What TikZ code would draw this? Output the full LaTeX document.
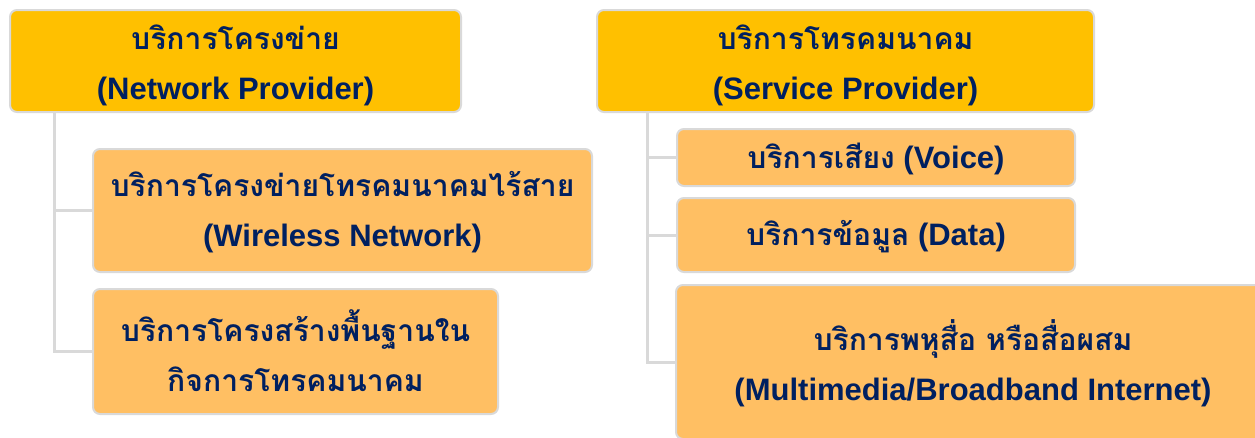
\documentclass[tikz,border=0pt]{standalone}
\usepackage{fontspec}
\setmainfont{Liberation Sans}
\newfontfamily\thaifont[Script=Thai, Scale=0.97]{Loma}
\usetikzlibrary{positioning}
\definecolor{topfill}{HTML}{FFC000}
\definecolor{subfill}{HTML}{FFBF63}
\definecolor{edgegray}{HTML}{D9D9D9}
\definecolor{textnavy}{HTML}{002060}

\begin{document}
\begin{tikzpicture}[x=1pt, y=-1pt,
    box/.style={rectangle, rounded corners=7pt, draw=edgegray, line width=2pt,
      inner sep=0pt},
    topbox/.style={box, fill=topfill},
    subbox/.style={box, fill=subfill},
    boxtext/.style={inner sep=0pt, align=center, text=textnavy,
      font=\fontsize{31}{50}\selectfont\bfseries},
    conn/.style={draw=edgegray, line width=3pt}]
    \clip (0,0) rectangle (1255,437);

    % Network provider
    \node[topbox, minimum width=451pt, minimum height=102pt] (net) at (235.5,61) {};
    \node[boxtext] (nettext) at ([yshift=-4pt]net.center)
      {{\thaifont บริการโครงข่าย}\\(Network Provider)};
    \node[subbox, minimum width=499pt, minimum height=123pt] (wireless) at (342.5,210.5) {};
    \node[boxtext] (wirelesstext) at ([yshift=-2pt]wireless.center)
      {{\thaifont บริการโครงข่ายโทรคมนาคมไร้สาย}\\(Wireless Network)};
    \node[subbox, minimum width=405pt, minimum height=125pt] (infra) at (295.5,351.5) {};
    \node[boxtext] (infratext) at ([yshift=1pt]infra.center)
      {{\thaifont บริการโครงสร้างพื้นฐานใน}\\{\thaifont กิจการโทรคมนาคม}};

    % Service provider
    \node[topbox, minimum width=497pt, minimum height=102pt] (svc) at (845.5,61) {};
    \node[boxtext] (svctext) at ([yshift=-4pt]svc.center)
      {{\thaifont บริการโทรคมนาคม}\\(Service Provider)};
    \node[subbox, minimum width=398pt, minimum height=57pt] (voice) at (876,157.5) {};
    \node[boxtext] (voicetext) at ([yshift=-1pt]voice.center)
      {{\thaifont บริการเสียง} (Voice)};
    \node[subbox, minimum width=398pt, minimum height=74pt] (data) at (876,235) {};
    \node[boxtext] (datatext) at ([yshift=-2pt]data.center)
      {{\thaifont บริการข้อมูล} (Data)};
    \node[subbox, minimum width=594pt, minimum height=154pt] (media) at (973,362) {};
    \node[boxtext] (mediatext) at ([yshift=-1pt]media.center)
      {{\thaifont บริการพหุสื่อ หรือสื่อผสม}\\(Multimedia/Broadband Internet)};

    % Connectors
    \draw[conn] ([xshift=45pt]net.south west) |- (wireless.west);
    \draw[conn] ([xshift=45pt]net.south west) |- (infra.west);
    \draw[conn] ([xshift=51pt]svc.south west) |- (voice.west);
    \draw[conn] ([xshift=51pt]svc.south west) |- (data.west);
    \draw[conn] ([xshift=51pt]svc.south west) |- (media.west);
\end{tikzpicture}
\end{document}
